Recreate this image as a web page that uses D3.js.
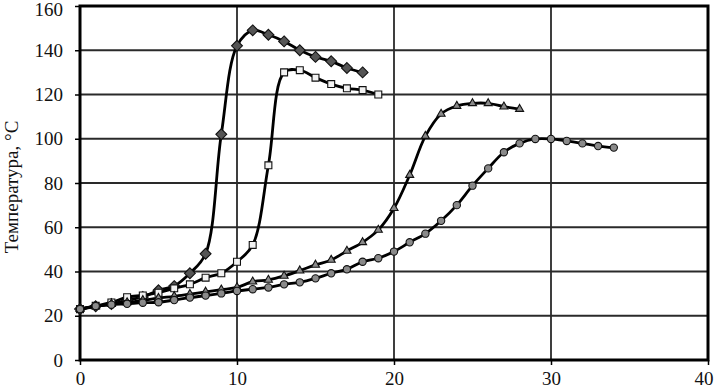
<!DOCTYPE html>
<html>
<head>
<meta charset="utf-8">
<script src="https://cdn.jsdelivr.net/npm/d3@7"></script>
<style>
  body { margin: 0; background: #fff; }
  svg text { font-family: "Liberation Serif", "Times New Roman", serif; fill: #111; }
</style>
</head>
<body>
<svg id="chart" width="714" height="389"></svg>
<script>
// time axis shared by all series (each series uses the first n values)
const time = [0, 1, 2, 3, 4, 5, 6, 7, 8, 9, 10, 11, 12, 13, 14, 15, 16, 17, 18, 19, 20,
  21, 22, 23, 24, 25, 26, 27, 28, 29, 30, 31, 32, 33, 34];

const diamonds = [23, 24.3, 25.3, 27, 28.5, 31.5, 33.4, 39.2, 48, 102, 142, 149, 147, 144,
  140, 137, 135, 132, 130];
const squares = [23, 24.5, 26, 28.4, 29.2, 30.4, 32.4, 34.2, 37.2, 39.2, 44.4, 52, 88, 130,
  131, 127.6, 124.7, 122.8, 122, 120];
const triangles = [23, 24.2, 25.3, 26, 27, 28, 28.8, 29.8, 30.8, 31.8, 32.8, 35.4, 36.2, 38,
  40.4, 43, 45.2, 49.3, 53.2, 58.8, 68.6, 83.6, 101.2, 111.2, 114.8, 116, 116, 114.5, 113.4];
const circles = [23, 24.4, 25, 25.4, 25.9, 26.1, 27.1, 28.2, 29.1, 30.1, 31.2, 32, 32.8, 34.2,
  35.1, 36.9, 39.2, 41, 44.4, 46, 49, 53.2, 57.1, 62.9, 70, 78.8, 86.6, 93.9, 97.9, 99.9,
  99.9, 99, 97.9, 96.7, 96];

const xTicks = [0, 10, 20, 30, 40];
const yTicks = [0, 20, 40, 60, 80, 100, 120, 140, 160];
const yLabel = "Температура, °С";

const svg = d3.select("#chart");
const plotLeft = 80, plotRight = 708, plotTop = 6, plotBottom = 360;

const x = d3.scaleLinear().domain([0, 40]).range([plotLeft, plotRight]);
const y = d3.scaleLinear().domain([0, 160]).range([plotBottom, plotTop]);

// grid
svg.append("g").selectAll("line").data(yTicks.slice(1, -1)).join("line")
  .attr("x1", plotLeft).attr("x2", plotRight)
  .attr("y1", d => y(d)).attr("y2", d => y(d))
  .attr("stroke", "#2a2a2a").attr("stroke-width", 1.8);
svg.append("g").selectAll("line").data(xTicks.slice(1, -1)).join("line")
  .attr("y1", plotTop).attr("y2", plotBottom)
  .attr("x1", d => x(d)).attr("x2", d => x(d))
  .attr("stroke", "#2a2a2a").attr("stroke-width", 1.8);

// frame
svg.append("rect")
  .attr("x", plotLeft).attr("y", plotTop)
  .attr("width", plotRight - plotLeft).attr("height", plotBottom - plotTop)
  .attr("fill", "none").attr("stroke", "#000").attr("stroke-width", 3);

// axes
const xAxis = svg.append("g").attr("transform", `translate(0,${plotBottom})`)
  .call(d3.axisBottom(x).tickValues(xTicks).tickSize(5).tickPadding(7));
const yAxis = svg.append("g").attr("transform", `translate(${plotLeft},0)`)
  .call(d3.axisLeft(y).tickValues(yTicks).tickSize(5).tickPadding(12));
[xAxis, yAxis].forEach(g => {
  g.select(".domain").remove();
  g.selectAll(".tick line").attr("stroke", "#000").attr("stroke-width", 1.5);
  g.selectAll(".tick text").attr("font-size", 19).attr("fill", "#111")
    .attr("font-family", "Liberation Serif, Times New Roman, serif");
});
// keep the end labels inside the window
xAxis.selectAll(".tick text").filter(d => d === 40).attr("text-anchor", "end").attr("dx", 5);
yAxis.selectAll(".tick text").filter(d => d === 160).attr("dy", "0.5em");

svg.append("text")
  .attr("transform", `translate(18,${(plotTop + plotBottom) / 2 + 4}) rotate(-90)`)
  .attr("text-anchor", "middle")
  .attr("font-size", 19)
  .text(yLabel);

// series
const series = [
  { values: diamonds, shape: "diamond", fill: "#555" },
  { values: squares, shape: "square", fill: "#f2f2f2" },
  { values: triangles, shape: "triangle", fill: "#8a8a8a" },
  { values: circles, shape: "circle", fill: "#8a8a8a" }
];

const line = d3.line()
  .x(d => x(d[0])).y(d => y(d[1]))
  .curve(d3.curveCatmullRom.alpha(0.5));

const symbols = {
  diamond: d3.symbol().type(d3.symbolDiamond2).size(75),
  square: d3.symbol().type(d3.symbolSquare).size(48),
  triangle: d3.symbol().type(d3.symbolTriangle).size(28),
  circle: d3.symbol().type(d3.symbolCircle).size(42)
};

series.forEach(s => {
  const pts = s.values.map((v, i) => [time[i], v]);
  svg.append("path")
    .attr("d", line(pts))
    .attr("fill", "none")
    .attr("stroke", "#000")
    .attr("stroke-width", 2.8);
  svg.append("g").selectAll("path").data(pts).join("path")
    .attr("transform", d => `translate(${x(d[0])},${y(d[1])})`)
    .attr("d", symbols[s.shape]())
    .attr("fill", s.fill)
    .attr("stroke", "#111")
    .attr("stroke-width", 1.1);
});
</script>
</body>
</html>
